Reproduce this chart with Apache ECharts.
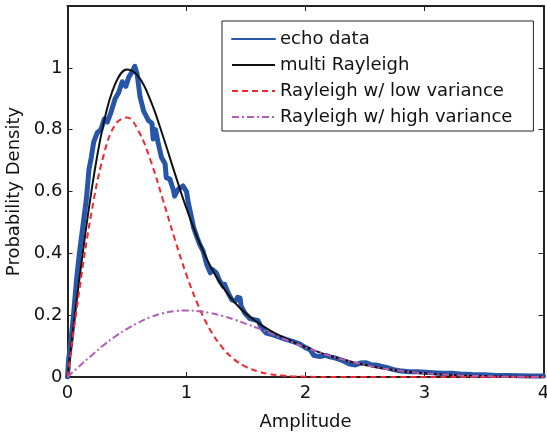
<!DOCTYPE html>
<html>
<head>
<meta charset="utf-8">
<script src="https://cdn.jsdelivr.net/npm/echarts@6/dist/echarts.min.js"></script>
<style>
  html, body { margin: 0; padding: 0; background: #fff; }
  #chart { width: 547px; height: 433px; }
</style>
</head>
<body>
<div id="chart"></div>
<script>
// ------------------------------------------------------------
// data
// ------------------------------------------------------------
var FONT = 'DejaVu Sans';

// model curves, sampled every 0.1 in amplitude
var MODEL_X = [0, 0.1, 0.2, 0.3, 0.4, 0.5, 0.6, 0.7, 0.8, 0.9,
  1.0, 1.1, 1.2, 1.3, 1.4, 1.5, 1.6, 1.7, 1.8, 1.9,
  2.0, 2.1, 2.2, 2.3, 2.4, 2.5, 2.6, 2.7, 2.8, 2.9,
  3.0, 3.1, 3.2, 3.3, 3.4, 3.5, 3.6, 3.7, 3.8, 3.9, 4.0];
var LOW_VAR = [0, 0.282, 0.529, 0.712, 0.816, 0.839, 0.793, 0.698, 0.576, 0.448,
  0.330, 0.230, 0.152, 0.096, 0.057, 0.033, 0.018, 0.009, 0.005, 0.002,
  0.001, 0, 0, 0, 0, 0, 0, 0, 0, 0,
  0, 0, 0, 0, 0, 0, 0, 0, 0, 0, 0];
var HIGH_VAR = [0, 0.035, 0.069, 0.102, 0.131, 0.156, 0.177, 0.194, 0.206, 0.213,
  0.215, 0.213, 0.207, 0.198, 0.186, 0.172, 0.158, 0.142, 0.126, 0.111,
  0.096, 0.082, 0.069, 0.058, 0.048, 0.039, 0.031, 0.025, 0.020, 0.015,
  0.012, 0.009, 0.007, 0.005, 0.004, 0.003, 0.002, 0.001, 0.001, 0.001, 0.001];
var MULTI = [0, 0.317, 0.598, 0.814, 0.947, 0.995, 0.970, 0.892, 0.782, 0.661,
  0.545, 0.443, 0.359, 0.294, 0.243, 0.205, 0.176, 0.151, 0.131, 0.113,
  0.097, 0.082, 0.069, 0.058, 0.048, 0.039, 0.031, 0.025, 0.020, 0.015,
  0.012, 0.009, 0.007, 0.005, 0.004, 0.003, 0.002, 0.001, 0.001, 0.001, 0.001];

// measured histogram (noisy)
var ECHO_X = [0, 0.01, 0.03, 0.05, 0.08, 0.1, 0.13, 0.16, 0.18, 0.2,
  0.22, 0.25, 0.28, 0.31, 0.335, 0.36, 0.40, 0.43, 0.46, 0.49,
  0.515, 0.54, 0.565, 0.585, 0.61, 0.64, 0.68, 0.71, 0.72, 0.74,
  0.76, 0.79, 0.82, 0.83, 0.86, 0.89, 0.90, 0.93, 0.97, 1.0,
  1.015, 1.04, 1.06, 1.09, 1.11, 1.14, 1.17, 1.20, 1.22, 1.25,
  1.28, 1.31, 1.32, 1.35, 1.38, 1.41, 1.43, 1.45, 1.46, 1.49,
  1.53, 1.57, 1.60, 1.63, 1.67, 1.73, 1.81, 1.89, 1.95, 2.0,
  2.04, 2.07, 2.12, 2.17, 2.2, 2.26, 2.32, 2.37, 2.42, 2.46,
  2.51, 2.55, 2.59, 2.64, 2.68, 2.74, 2.79, 2.87, 2.93, 2.98,
  3.07, 3.15, 3.23, 3.3, 3.4, 3.5, 3.6, 3.7, 3.8, 3.9, 4.0];
var ECHO_Y = [0, 0.06, 0.12, 0.2, 0.33, 0.40, 0.49, 0.58, 0.67, 0.71,
  0.76, 0.79, 0.80, 0.835, 0.825, 0.85, 0.90, 0.92, 0.955, 0.94,
  0.97, 0.985, 1.005, 0.98, 0.905, 0.86, 0.83, 0.82, 0.77, 0.80,
  0.76, 0.71, 0.69, 0.645, 0.64, 0.605, 0.585, 0.607, 0.618, 0.60,
  0.564, 0.52, 0.483, 0.45, 0.43, 0.407, 0.364, 0.337, 0.347, 0.337,
  0.31, 0.293, 0.30, 0.272, 0.25, 0.245, 0.258, 0.255, 0.228, 0.207,
  0.19, 0.185, 0.183, 0.160, 0.142, 0.136, 0.125, 0.115, 0.107, 0.095,
  0.088, 0.07, 0.066, 0.07, 0.066, 0.06, 0.052, 0.042, 0.039, 0.045,
  0.046, 0.04, 0.039, 0.034, 0.031, 0.024, 0.02, 0.017, 0.017, 0.016,
  0.014, 0.012, 0.012, 0.01, 0.008, 0.007, 0.005, 0.005, 0.004, 0.003, 0.003];

var X_TICKS = [0, 1, 2, 3, 4];
var Y_TICKS = [0, 0.2, 0.4, 0.6, 0.8, 1];

var SERIES_NAMES = ['echo data', 'multi Rayleigh', 'Rayleigh w/ low variance', 'Rayleigh w/ high variance'];
var COLORS = { echo: '#2756a8', multi: '#111111', low: '#f2262e', high: '#b25db8', axis: '#222222' };

function zip(xs, ys) {
  return xs.map(function(x, i) { return [x, ys[i]]; });
}

// ------------------------------------------------------------
// chart
// ------------------------------------------------------------
var chart = echarts.init(document.getElementById('chart'), null, { renderer: 'canvas' });

var tickStyle = { show: true, inside: true, length: 5, lineStyle: { color: COLORS.axis, width: 1 } };
var lineAxis = { show: true, onZero: false, lineStyle: { color: COLORS.axis, width: 2 } };

chart.setOption({
  animation: false,
  backgroundColor: '#fff',
  grid: { left: 67.5, right: 3.5, top: 6, bottom: 56, containLabel: false, outerBoundsMode: 'none' },
  legend: {
    orient: 'vertical',
    left: 222,
    top: 21,
    data: SERIES_NAMES.map(function(name) {
      return { name: name, itemStyle: { opacity: 0 } };
    }),
    backgroundColor: '#fff',
    borderColor: COLORS.axis,
    borderWidth: 1,
    borderRadius: 0,
    padding: [8, 21, 4, 9],
    itemWidth: 43,
    itemHeight: 14,
    itemGap: 6,
    textStyle: { fontFamily: FONT, fontSize: 18, color: '#111', lineHeight: 20 },
  },
  xAxis: [{
    type: 'value',
    min: 0,
    max: 4,
    interval: 1,
    name: 'Amplitude',
    nameLocation: 'middle',
    nameGap: 36,
    nameTextStyle: { fontFamily: FONT, fontSize: 18, color: '#111' },
    axisLine: lineAxis,
    axisTick: tickStyle,
    splitLine: { show: false },
    axisLabel: { fontFamily: FONT, fontSize: 18, color: '#111', margin: 7 },
  }, {
    type: 'value',
    position: 'top',
    min: 0,
    max: 4,
    interval: 1,
    axisLine: lineAxis,
    axisTick: tickStyle,
    splitLine: { show: false },
    axisLabel: { show: false },
  }],
  yAxis: [{
    type: 'value',
    min: 0,
    max: 1.2,
    interval: 0.2,
    name: 'Probability Density',
    nameLocation: 'middle',
    nameGap: 41,
    nameTextStyle: { fontFamily: FONT, fontSize: 18, color: '#111' },
    axisLine: lineAxis,
    axisTick: tickStyle,
    splitLine: { show: false },
    axisLabel: {
      fontFamily: FONT, fontSize: 18, color: '#111', margin: 5,
      formatter: function(v) { return Y_TICKS.indexOf(Math.round(v * 10) / 10) >= 0 ? String(Math.round(v * 10) / 10) : ''; },
    },
  }, {
    type: 'value',
    position: 'right',
    min: 0,
    max: 1.2,
    interval: 0.2,
    axisLine: lineAxis,
    axisTick: tickStyle,
    splitLine: { show: false },
    axisLabel: { show: false },
  }],
  series: [{
    name: SERIES_NAMES[0],
    type: 'line',
    data: zip(ECHO_X, ECHO_Y),
    symbol: 'none',
    smooth: false,
    lineStyle: { color: COLORS.echo, width: 5, join: 'round', cap: 'round' },
    itemStyle: { color: COLORS.echo },
    z: 2,
  }, {
    name: SERIES_NAMES[1],
    type: 'line',
    data: zip(MODEL_X, MULTI),
    symbol: 'none',
    smooth: 0.4,
    lineStyle: { color: COLORS.multi, width: 2 },
    itemStyle: { color: COLORS.multi },
    z: 3,
  }, {
    name: SERIES_NAMES[2],
    type: 'line',
    data: zip(MODEL_X, LOW_VAR),
    symbol: 'none',
    smooth: 0.4,
    lineStyle: { color: COLORS.low, width: 2, type: [6, 4] },
    itemStyle: { color: COLORS.low },
    z: 4,
  }, {
    name: SERIES_NAMES[3],
    type: 'line',
    data: zip(MODEL_X, HIGH_VAR),
    symbol: 'none',
    smooth: 0.4,
    lineStyle: { color: COLORS.high, width: 2, type: [7, 3, 2, 3] },
    itemStyle: { color: COLORS.high },
    z: 5,
  }],
});
</script>
</body>
</html>
